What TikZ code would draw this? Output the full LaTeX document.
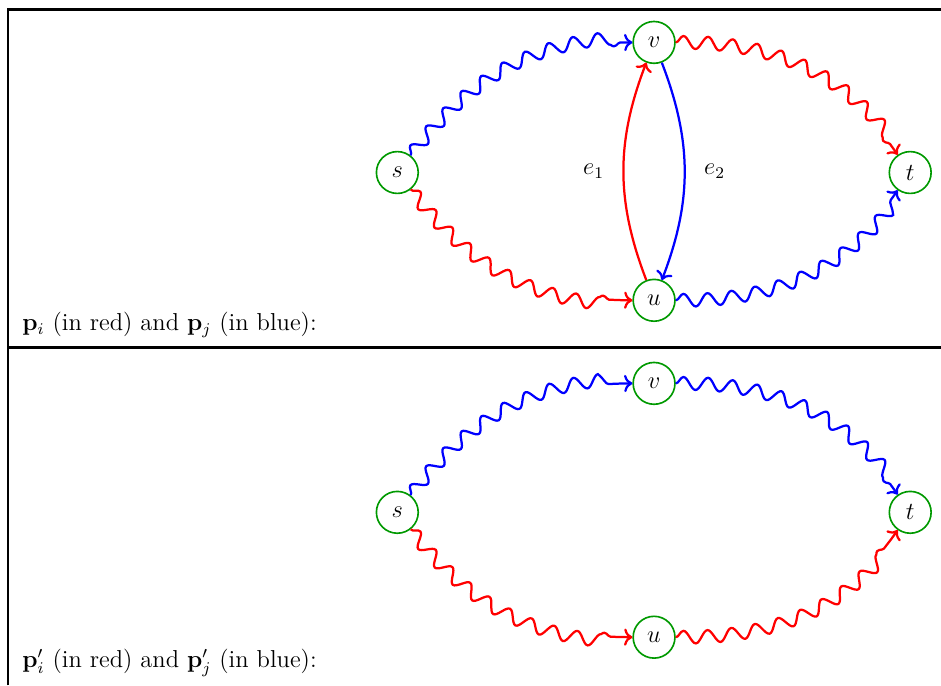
\documentclass[tikz,border=0pt]{standalone}
\usetikzlibrary{positioning, calc, decorations.pathmorphing, arrows.meta}
\begin{document}
\begin{tikzpicture}[
    font=\large,
    vertex/.style={circle, draw=green!60!black, thick, minimum size=0.72cm, inner sep=0pt},
    wavy/.style={line width=1.1pt, ->, decorate, decoration={snake, amplitude=1.1mm, segment length=4.2mm, post length=2mm}},
    plain/.style={line width=1.1pt, ->}
    ]
    \useasboundingbox (0,0) rectangle (16.2,11.8);
    %cornice
    \draw[line width=1.2pt] (0.14,0) --++ (0,11.64) --++ (16.06,0);
    \draw[line width=1.2pt] (0.14,5.82) --++ (16.06,0);
    %grafo sopra
    \node[vertex] (s1) at (6.84,8.83) {$s$};
    \node[vertex] (v1) at (11.26,11.07) {$v$};
    \node[vertex] (u1) at (11.26,6.63) {$u$};
    \node[vertex] (t1) at (15.67,8.83) {$t$};
    \draw[wavy, blue] (s1) to[out=52, in=180] (v1);
    \draw[wavy, red] (s1) to[out=-52, in=180] (u1);
    \draw[wavy, red] (v1) to[out=0, in=125] (t1);
    \draw[wavy, blue] (u1) to[out=0, in=-125] (t1);
    \draw[plain, red] (u1) to[bend left=21] node[left=2mm, black] {$e_1$} (v1);
    \draw[plain, blue] (v1) to[bend left=21] node[right=2mm, black] {$e_2$} (u1);
    \node[anchor=base west] (lab1) at (0.26,6.11) {$\mathbf{p}_i$ (in red) and $\mathbf{p}_j$ (in blue):};
    %grafo sotto
    \node[vertex] (s2) at (6.84,2.98) {$s$};
    \node[vertex] (v2) at (11.26,5.20) {$v$};
    \node[vertex] (u2) at (11.26,0.83) {$u$};
    \node[vertex] (t2) at (15.67,2.98) {$t$};
    \draw[wavy, blue] (s2) to[out=52, in=180] (v2);
    \draw[wavy, red] (s2) to[out=-52, in=180] (u2);
    \draw[wavy, blue] (v2) to[out=0, in=125] (t2);
    \draw[wavy, red] (u2) to[out=0, in=-125] (t2);
    \node[anchor=base west] (lab2) at (0.26,0.31) {$\mathbf{p}'_i$ (in red) and $\mathbf{p}'_j$ (in blue):};
\end{tikzpicture}
\end{document}
